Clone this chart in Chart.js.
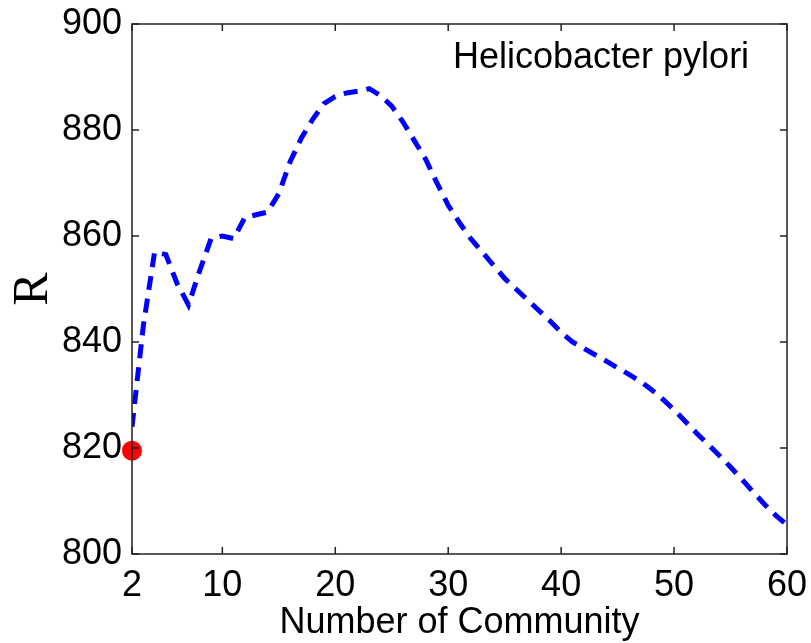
<!DOCTYPE html>
<html>
<head>
<meta charset="utf-8">
<title>Helicobacter pylori</title>
<script src="https://cdn.jsdelivr.net/npm/chart.js@4/dist/chart.umd.min.js"></script>
<style>
    html, body { margin: 0; padding: 0; background: #fff; }
    #chart { display: block; }
</style>
</head>
<body>
<canvas id="chart" width="811" height="643"></canvas>
<script>
// R against number of communities
const communities = [
    2, 3, 4, 5, 6, 7, 8, 9, 10, 11,
    12, 13, 14, 15, 16, 17, 18, 19, 20, 21,
    22, 23, 24, 25, 26, 27, 28, 29, 30, 31,
    32, 33, 34, 35, 36, 37, 38, 39, 40, 41,
    42, 43, 44, 45, 46, 47, 48, 49, 50, 51,
    52, 53, 54, 55, 56, 57, 58, 59, 60
];
const rValues = [
    824, 843, 857, 856.5, 851, 847, 853.5, 859.5, 860, 859.5,
    863.5, 864, 864.5, 868, 874, 878.5, 882, 885, 886.3, 887,
    887.3, 887.8, 886.5, 884.5, 881.5, 878, 874.5, 870, 865.8, 862.5,
    859.5, 857, 854.5, 852, 850, 848, 846, 844, 841.8, 840,
    838.8, 837.6, 836.4, 835.1, 833.9, 832.6, 831, 829.2, 827.2, 825,
    822.8, 820.7, 818.6, 816.4, 814.1, 811.7, 809.4, 807.3, 805.5
];

// single highlighted point
const markerX = [2];
const markerR = [819.5];

const xTicks = [2, 10, 20, 30, 40, 50, 60];
const yTicks = [800, 820, 840, 860, 880, 900];

const seriesLabel = 'Helicobacter pylori';

const FONT = '"Liberation Sans", Arial, sans-serif';

// frame around the plot with inward tick marks, plus the series label
const boxPlugin = {
    id: 'boxFrame',
    afterDraw(chart) {
        const ctx = chart.ctx;
        const a = chart.chartArea;
        const xs = chart.scales.x;
        const ys = chart.scales.y;
        const len = 7;

        ctx.save();
        ctx.strokeStyle = '#222';
        ctx.lineWidth = 1.5;
        ctx.strokeRect(a.left, a.top, a.right - a.left, a.bottom - a.top);

        ctx.beginPath();
        xTicks.forEach(v => {
            const px = xs.getPixelForValue(v);
            ctx.moveTo(px, a.bottom);
            ctx.lineTo(px, a.bottom - len);
            ctx.moveTo(px, a.top);
            ctx.lineTo(px, a.top + len);
        });
        yTicks.forEach(v => {
            const py = ys.getPixelForValue(v);
            ctx.moveTo(a.left, py);
            ctx.lineTo(a.left + len, py);
            ctx.moveTo(a.right, py);
            ctx.lineTo(a.right - len, py);
        });
        ctx.stroke();

        ctx.fillStyle = '#000';
        ctx.font = '36px ' + FONT;
        ctx.textAlign = 'left';
        ctx.textBaseline = 'alphabetic';
        ctx.fillText(seriesLabel, 453, 68);
        ctx.restore();
    }
};

const ctx = document.getElementById('chart').getContext('2d');
new Chart(ctx, {
    type: 'line',
    data: {
        datasets: [
            {
                label: 'start',
                data: markerX.map((x, i) => ({ x: x, y: markerR[i] })),
                showLine: false,
                pointRadius: 10,
                pointBackgroundColor: '#ff0000',
                pointBorderWidth: 0,
                clip: false
            },
            {
                label: seriesLabel,
                data: communities.map((x, i) => ({ x: x, y: rValues[i] })),
                borderColor: '#0000ff',
                borderWidth: 5,
                borderDash: [14, 9],
                borderCapStyle: 'butt',
                tension: 0,
                pointRadius: 0,
                fill: false
            }
        ]
    },
    options: {
        responsive: false,
        animation: false,
        layout: { padding: { top: 24, right: 24, left: 0, bottom: 0 } },
        plugins: {
            legend: { display: false },
            tooltip: { enabled: false }
        },
        scales: {
            x: {
                type: 'linear',
                min: 2,
                max: 60,
                afterBuildTicks: scale => {
                    scale.ticks = xTicks.map(v => ({ value: v }));
                },
                afterFit: scale => {
                    scale.height = 89;
                    // keep the end labels from pushing the plot inward
                    scale.paddingLeft = 0;
                    scale.paddingRight = 0;
                },
                grid: { display: false, drawTicks: false },
                border: { display: false },
                ticks: {
                    padding: 10,
                    color: '#000',
                    maxRotation: 0,
                    font: { family: FONT, size: 36 }
                },
                title: {
                    display: true,
                    text: 'Number of Community',
                    color: '#000',
                    padding: { top: 0, bottom: -2 },
                    font: { family: FONT, size: 36 }
                }
            },
            y: {
                min: 800,
                max: 900,
                afterBuildTicks: scale => {
                    scale.ticks = yTicks.map(v => ({ value: v }));
                },
                afterFit: scale => {
                    scale.width = 132;
                    scale.paddingTop = 0;
                    scale.paddingBottom = 0;
                },
                grid: { display: false, drawTicks: false },
                border: { display: false },
                ticks: {
                    padding: 10,
                    color: '#000',
                    font: { family: FONT, size: 36 }
                },
                title: {
                    display: true,
                    text: 'R',
                    color: '#000',
                    padding: { top: 4, bottom: 0 },
                    font: { family: '"Liberation Serif", "Times New Roman", serif', size: 50 }
                }
            }
        }
    },
    plugins: [boxPlugin]
});
</script>
</body>
</html>
